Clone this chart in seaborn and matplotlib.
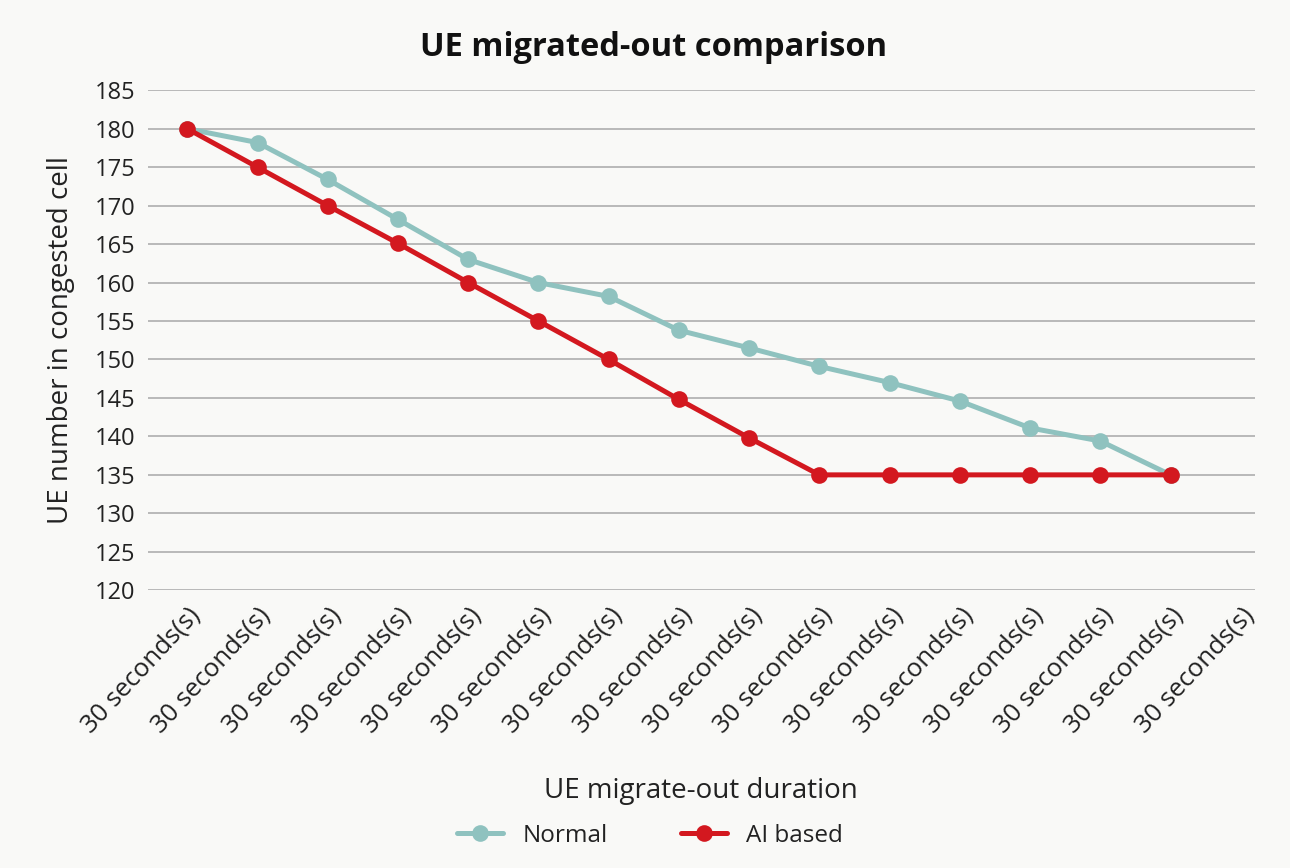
import matplotlib
matplotlib.use("Agg")
import matplotlib.pyplot as plt
import matplotlib.transforms as mtransforms
import seaborn as sns
import pandas as pd

# Interval labels along the x axis (16 slots, 15 measurements)
x_labels = ["30 seconds(s)"] * 16
steps = list(range(15))

normal = [180, 178.2, 173.4, 168.2, 163.0, 160.0, 158.2, 153.8, 151.5,
          149.1, 147.0, 144.6, 141.1, 139.4, 135]
ai_based = [180, 175, 170, 165.1, 160, 155, 150, 144.8, 139.8,
            135, 135, 135, 135, 135, 135]

series_names = ["Normal", "AI based"]
colors = {"Normal": "#8fc2bf", "AI based": "#d3181f"}

df = pd.concat([
    pd.DataFrame({"step": steps, "ue": normal, "series": "Normal"}),
    pd.DataFrame({"step": steps, "ue": ai_based, "series": "AI based"}),
])

sns.set_theme(style="white")
plt.rcParams["font.family"] = ["Open Sans", "DejaVu Sans"]
bg = "#f9f9f7"
ink = "#222222"

fig = plt.figure(figsize=(12.9, 8.68), dpi=100, facecolor=bg)
ax = fig.add_axes([0.1147, 0.320, 0.858, 0.576], facecolor=bg)

sns.lineplot(data=df, x="step", y="ue", hue="series", hue_order=series_names,
             palette=colors, marker="o", markersize=12, markeredgewidth=0,
             linewidth=3.6, ax=ax, legend=True, zorder=3)

ax.set_ylim(120, 185)
ax.set_yticks(range(120, 186, 5))
ax.set_xlim(-0.56, 15.2)
ax.set_xticks(range(len(x_labels)))
ax.set_xticklabels(x_labels, rotation=47, ha="right", rotation_mode="anchor",
                   fontsize=18.5, color=ink)
# nudge the slanted labels so their ends sit under each tick
shift = mtransforms.ScaledTranslation(-10 / 100, -4 / 100, fig.dpi_scale_trans)
for lbl in ax.get_xticklabels():
    lbl.set_transform(lbl.get_transform() + shift)
ax.tick_params(axis="y", labelsize=17, labelcolor=ink, length=0, pad=9)
ax.tick_params(axis="x", length=0, pad=9)

ax.yaxis.grid(True, color="#b4b4b4", linewidth=1.3)
ax.xaxis.grid(False)
for s in ax.spines.values():
    s.set_visible(False)

ax.set_xlabel("UE migrate-out duration", fontsize=20, color=ink, labelpad=28)
ax.set_ylabel("UE number in congested cell", fontsize=20, color=ink, labelpad=14)
fig.text(0.507, 0.945, "UE migrated-out comparison", ha="center", va="center",
         fontsize=23.5, fontweight="bold", color="#111111")

handles, labels = ax.get_legend_handles_labels()
ax.legend(handles, labels, loc="center", bbox_to_anchor=(0.504, 0.037),
          bbox_transform=fig.transFigure, ncol=2, frameon=False, fontsize=17.5,
          handlelength=1.9, columnspacing=3.0, labelcolor=ink)

fig.savefig("out.png", dpi=100, facecolor=bg)
